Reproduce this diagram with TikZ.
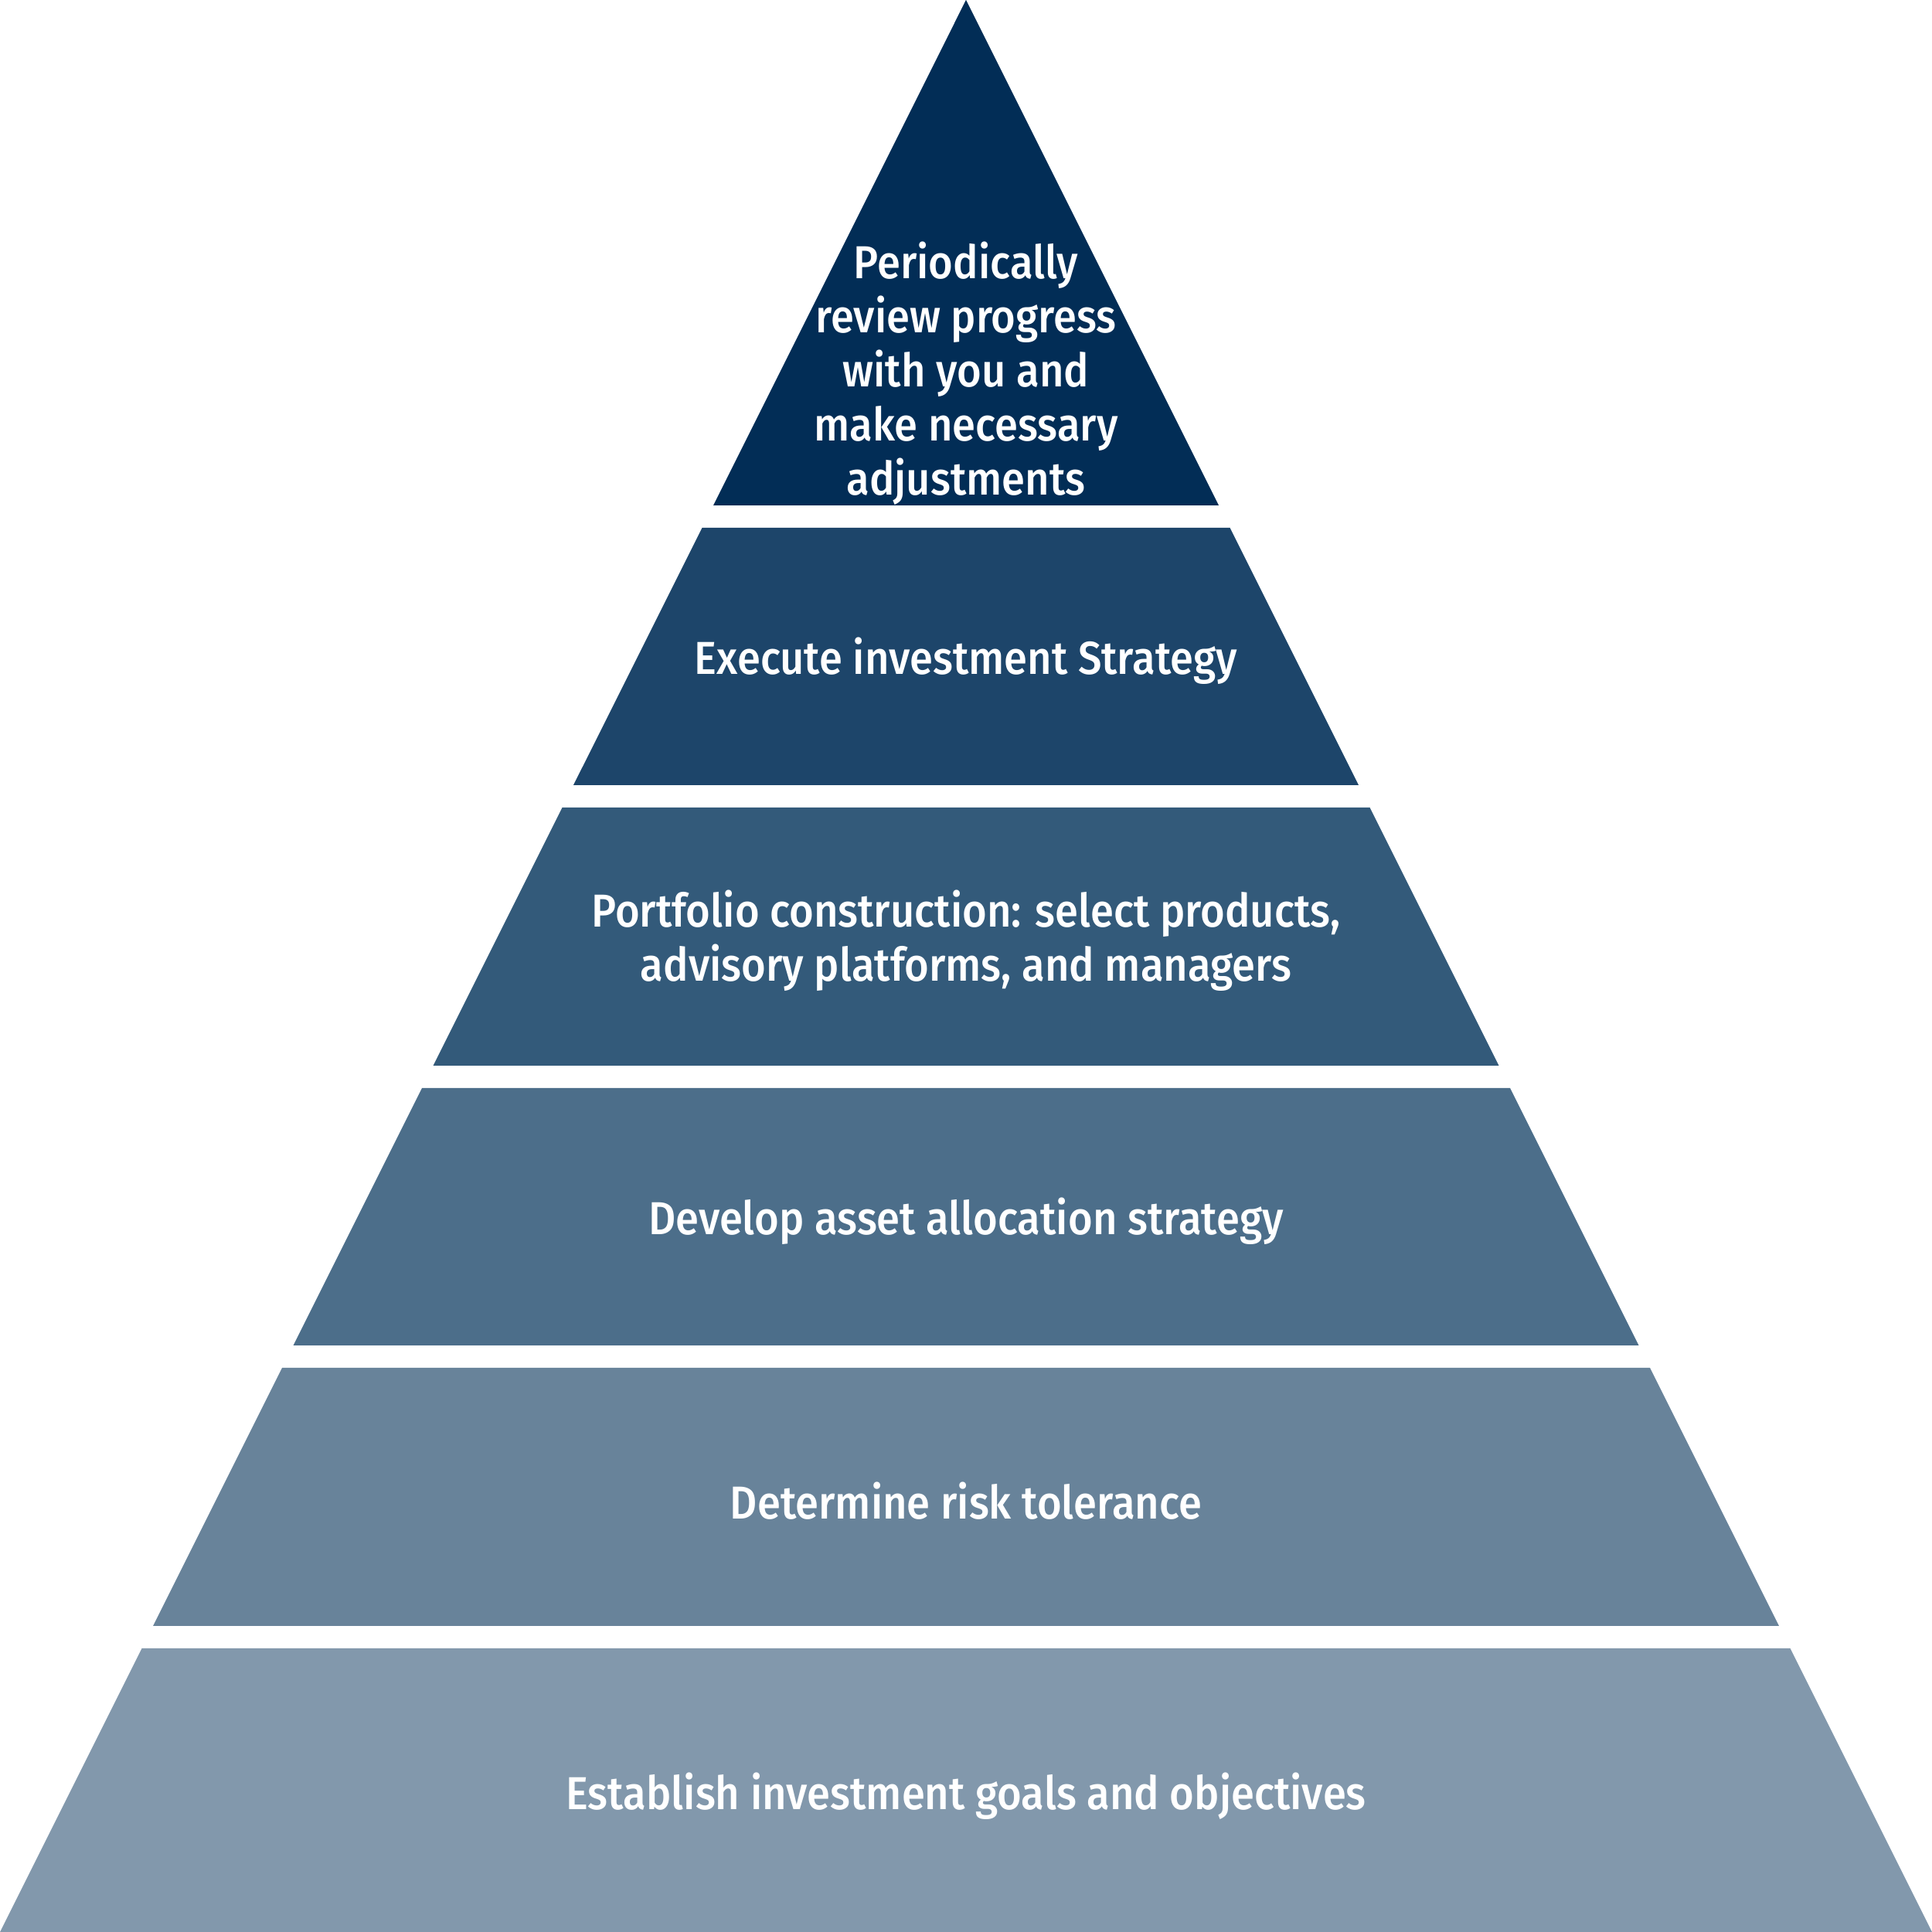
\documentclass[tikz,border=0pt]{standalone}
\usepackage{fontspec}
\setmainfont{Fira Sans}[FakeStretch=0.91, UprightFont=* Medium]
\usepackage{tikz}

\definecolor{lvlA}{HTML}{022D56}
\definecolor{lvlB}{HTML}{1D456A}
\definecolor{lvlC}{HTML}{335A7A}
\definecolor{lvlD}{HTML}{4C6E8A}
\definecolor{lvlE}{HTML}{68839A}
\definecolor{lvlF}{HTML}{8298AC}

\tikzset{
  steptext/.style={text=white, align=center, inner sep=0pt,
    font=\fontsize{17}{19.9}\selectfont}
}

\begin{document}
\begin{tikzpicture}
        \useasboundingbox (0,0) rectangle (25,25);
        % apex at (12.5,25), half width grows by 0.5 per unit depth
        \foreach \t/\b/\c in {0/6.54/lvlA, 6.83/10.16/lvlB, 10.45/13.79/lvlC,
                              14.08/17.41/lvlD, 17.70/21.04/lvlE, 21.33/25/lvlF}
          \fill[\c] ({12.5-\t/2},{25-\t}) -- ({12.5+\t/2},{25-\t})
                 -- ({12.5+\b/2},{25-\b}) -- ({12.5-\b/2},{25-\b}) -- cycle;
        \node[steptext] (review) at (12.5,20.17)
          {Periodically\\review progress\\with you and\\make necessary\\adjustments};
        \node[steptext] (execute) at (12.5,16.45) {Execute investment Strategy};
        \node[steptext] (portfolio) at (12.5,12.83)
          {Portfolio construction: select products,\\advisory platforms, and managers};
        \node[steptext] (develop) at (12.5,9.20) {Develop asset allocation strategy};
        \node[steptext] (determine) at (12.5,5.58) {Determine risk tolerance};
        \node[steptext] (establish) at (12.5,1.76) {Establish investment goals and objectives};
      \end{tikzpicture}
\end{document}
